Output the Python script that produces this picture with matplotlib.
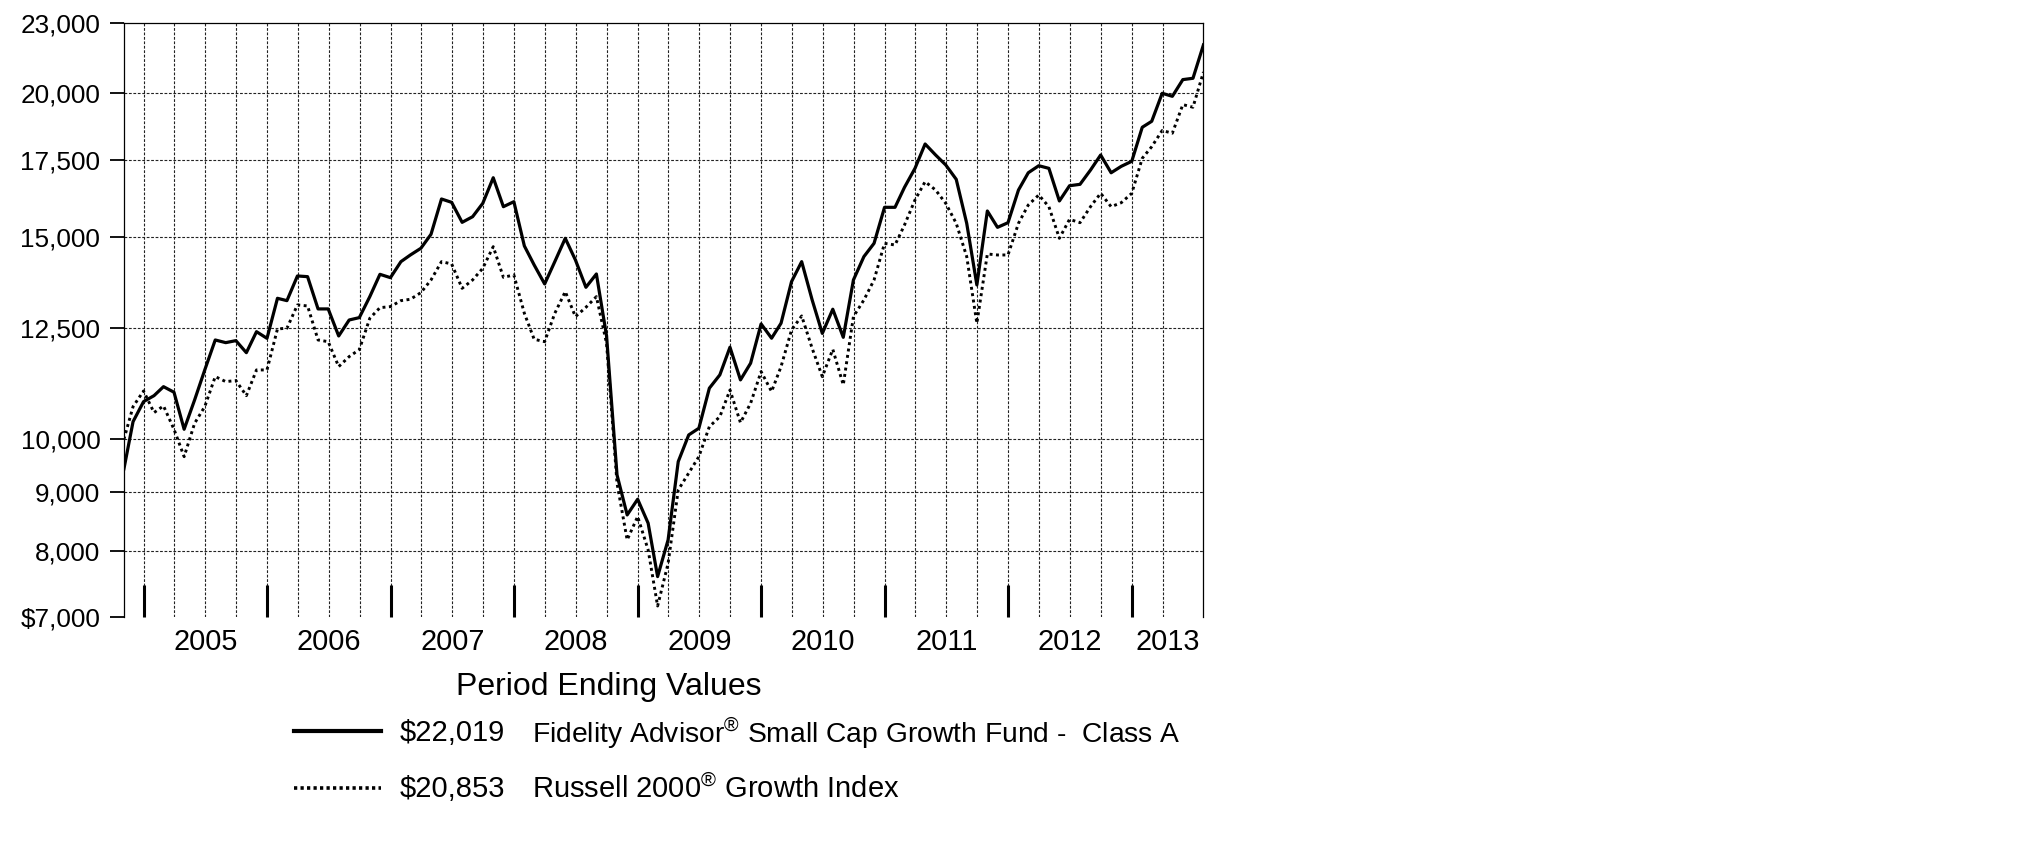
import matplotlib
matplotlib.use('Agg')
import matplotlib.pyplot as plt
from matplotlib.lines import Line2D
from matplotlib.ticker import FixedLocator, NullLocator
import pandas as pd

plt.rcParams['font.family'] = ['Liberation Sans', 'DejaVu Sans']
plt.rcParams['mathtext.fontset'] = 'custom'
plt.rcParams['mathtext.rm'] = 'Liberation Sans'

# values: start (Nov 3 2004) then month ends Nov 2004 .. Jul 2013
start_date = '2004-11-03'
fund = [9425,
        10359, 10782,
        10912, 11110, 10987, 10202, 10819, 11488, 12198, 12133, 12182, 11892, 12402, 12238,
        13259, 13197, 13865, 13846, 12980, 12980, 12296, 12696, 12756, 13303, 13911, 13818,
        14268, 14460, 14655, 15071, 16174, 16066, 15436, 15611, 16034, 16877, 15927, 16087,
        14724, 14174, 13645, 14268, 14950, 14316, 13554, 13920, 12300, 9311, 8595, 8869,
        8454, 7597, 8176, 9563, 10087, 10223, 11076, 11375, 12023, 11261, 11644, 12596,
        12241, 12614, 13709, 14268, 13215, 12360, 12972, 12263, 13755, 14413, 14801, 15907,
        15907, 16556, 17197, 18056, 17663, 17314, 16823, 15405, 13618, 15790, 15282, 15425,
        16467, 17046, 17288, 17197, 16110, 16609, 16656, 17138, 17663, 17046, 17267, 17441,
        18670, 18895, 19984, 19864, 20539, 20594, 22019]
index = [10000,
         10675, 11015,
         10548, 10690, 10202, 9658, 10325, 10675, 11336, 11223, 11246, 10912, 11488, 11488,
         12471, 12488, 13084, 13058, 12198, 12157, 11565, 11799, 11965, 12739, 13013, 13040,
         13197, 13233, 13410, 13755, 14268, 14202, 13527, 13755, 14079, 14703, 13828, 13893,
         12867, 12215, 12157, 12867, 13437, 12781, 13022, 13303, 12118, 9157, 8176, 8567,
         8014, 7163, 7800, 9035, 9346, 9658, 10255, 10462, 11036, 10337, 10747, 11450,
         11002, 11565, 12443, 12799, 11995, 11336, 11971, 11150, 12781, 13215, 13755, 14801,
         14752, 15354, 16142, 16744, 16467, 16034, 15405, 14413, 12614, 14489, 14460, 14460,
         15405, 15981, 16304, 15927, 14950, 15529, 15425, 15927, 16360, 15927, 16055, 16360,
         17546, 17959, 18550, 18450, 19537, 19434, 20853]
dates = [pd.Timestamp(start_date)] + list(pd.date_range('2004-12-01', '2013-08-01', freq='MS') - pd.Timedelta(days=1))

y_ticks = [7000, 8000, 9000, 10000, 12500, 15000, 17500, 20000, 23000]
y_labels = ['$7,000', '8,000', '9,000', '10,000', '12,500', '15,000', '17,500', '20,000', '23,000']
years = list(range(2005, 2014))
fund_value = '$22,019'
index_value = '$20,853'
fund_name = r'Fidelity Advisor$^{\mathrm{®}}$ Small Cap Growth Fund -  Class A'
index_name = r'Russell 2000$^{\mathrm{®}}$ Growth Index'

fig = plt.figure(figsize=(20.25, 8.51), dpi=100)
ax = fig.add_axes([0.0612, 0.2744, 0.5331, 0.6985])
ax.set_yscale('log')
ax.set_ylim(7000, 23000)
ax.set_xlim(dates[0], dates[-1])

grid_style = dict(color='#222222', lw=0.8, ls=(0, (2.5, 1.5)), zorder=1)
for v in y_ticks[1:-1]:
    ax.axhline(v, **grid_style)
for q in pd.date_range('2005-01-01', '2013-04-01', freq='QS'):
    ax.axvline(q, **grid_style)

ax.plot(dates, fund, color='black', lw=2.3, zorder=3)
ax.plot(dates, index, color='black', lw=2.1, ls=(0, (1, 1.2)), zorder=3)

ax.yaxis.set_major_locator(FixedLocator(y_ticks))
ax.yaxis.set_minor_locator(NullLocator())
ax.set_yticklabels(y_labels)
ax.tick_params(axis='y', direction='out', length=10, width=1.3, pad=7, labelsize=18.8)

ax.set_xticks([pd.Timestamp(f'{y}-01-01') for y in years])
ax.xaxis.set_minor_locator(NullLocator())
ax.set_xticklabels([])
ax.tick_params(axis='x', direction='in', length=23, width=2.2)

for y in years:
    left = max(pd.Timestamp(f'{y}-01-01'), dates[0])
    right = min(pd.Timestamp(f'{y + 1}-01-01'), dates[-1])
    ax.text(left + (right - left) / 2, -0.042, str(y), transform=ax.get_xaxis_transform(),
            ha='center', va='center', fontsize=20.8)

for s in ['left', 'right', 'top']:
    ax.spines[s].set_linewidth(0.9)
ax.spines['bottom'].set_visible(False)

# legend block
fig.text(0.3007, 0.1925, 'Period Ending Values', ha='center', va='center', fontsize=23)
fig.add_artist(Line2D([0.1452, 0.1881], [0.1405, 0.1405], color='black', lw=3, transform=fig.transFigure))
fig.add_artist(Line2D([0.1452, 0.1881], [0.0745, 0.0745], color='black', lw=2.6,
                      ls=(0, (0.9, 0.9)), transform=fig.transFigure))
fig.text(0.1975, 0.1385, fund_value, ha='left', va='center', fontsize=21)
fig.text(0.1975, 0.0725, index_value, ha='left', va='center', fontsize=21)
fig.text(0.2626, 0.1385, fund_name, ha='left', va='center', fontsize=20.3)
fig.text(0.2626, 0.0725, index_name, ha='left', va='center', fontsize=21)

fig.savefig('out.png', dpi=100)
